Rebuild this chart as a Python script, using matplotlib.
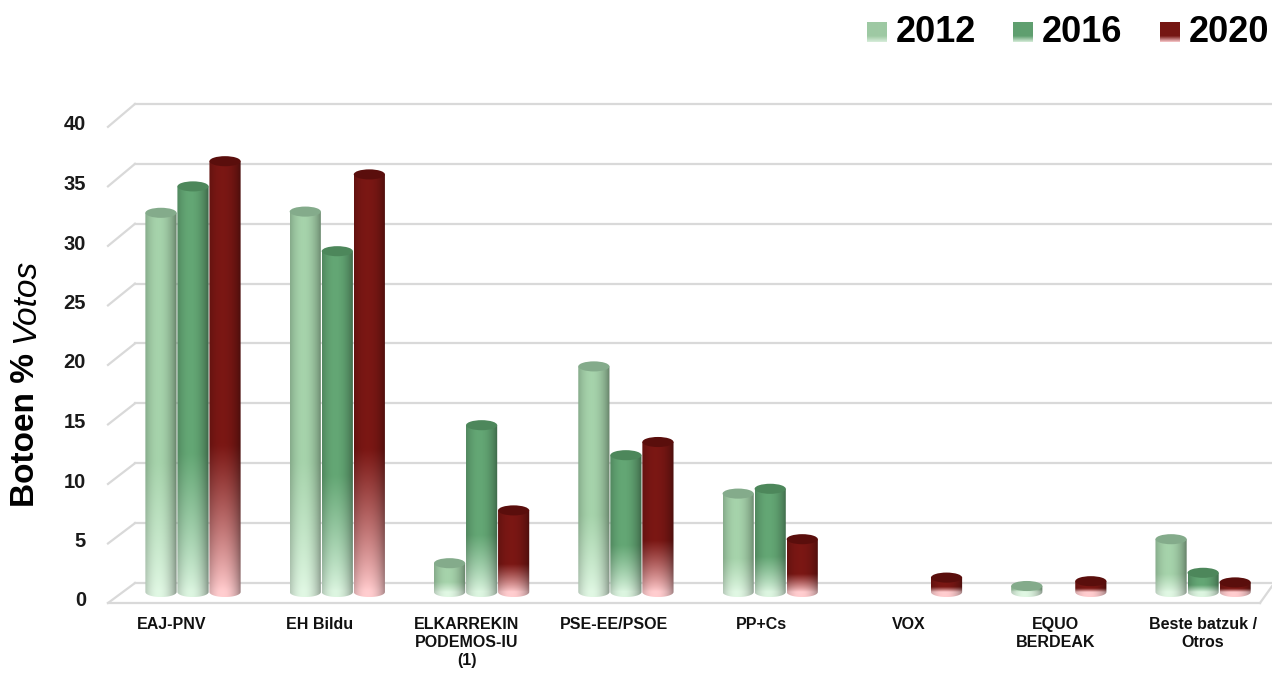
import numpy as np
import matplotlib
matplotlib.use("Agg")
import matplotlib.pyplot as plt
from matplotlib.patches import Ellipse
from matplotlib.path import Path
from matplotlib.colors import to_rgb
from matplotlib.transforms import IdentityTransform

categories = ["EAJ-PNV", "EH Bildu", "ELKARREKIN\nPODEMOS-IU\n(1)", "PSE-EE/PSOE",
              "PP+Cs", "VOX", "EQUO\nBERDEAK", "Beste batzuk /\nOtros"]
years = ["2012", "2016", "2020"]
votes_2012 = [31.6, 31.7, 2.4, 18.8, 8.2, 0, 0.5, 4.4]
votes_2016 = [33.8, 28.4, 13.9, 11.4, 8.6, 0, 0, 1.6]
votes_2020 = [35.9, 34.8, 6.8, 12.5, 4.4, 1.2, 0.9, 0.8]
yticks = [0, 5, 10, 15, 20, 25, 30, 35, 40]

# base / light bottom / top-cap colours per year
base_cols = ["#9ec9a3", "#5f9f6f", "#751613"]
light_cols = ["#d6ecd9", "#d2eAd6", "#f6c4c6"]
top_cols = ["#84ab8b", "#4d875b", "#5a0e0c"]

plt.rcParams["font.family"] = ["Liberation Sans", "DejaVu Sans"]

W, H = 1272, 679
fig = plt.figure(figsize=(W / 100, H / 100), dpi=100)
ax = fig.add_axes([0, 0, 1, 1])

# pixel layout -> data (1 data unit on y = 1 vote %)
X0, XS, Y0, YS = 193, 144.3, 592, 12.0
ax.set_xlim(-X0 / XS, (W - X0) / XS)
ax.set_ylim((Y0 - H) / YS, Y0 / YS)
ax.axis("off")


def px(x, y):
    return (x - X0) / XS, (Y0 - y) / YS


grid_col = "#d9d9d9"
# back wall gridlines + left wall diagonals
for v in yticks:
    yb = 0.75 + v * 0.998
    yf = -0.917 + v * 0.992
    xl, _ = px(135, 0)
    xr, _ = px(1272, 0)
    xf, _ = px(108, 0)
    ax.plot([xl, xr], [yb, yb], color=grid_col, lw=1.6, zorder=1)
    ax.plot([xf, xl], [yf, yb], color=grid_col, lw=1.6, zorder=1)
    _, ty = px(0, 601 - 11.9 * v)
    ax.text(px(86, 0)[0], ty, str(v), ha="right", va="center",
            fontsize=14.5, fontweight="bold", color="#1a1a1a")
# floor front edge
xf, _ = px(108, 0)
xe, _ = px(1260, 0)
ax.plot([xf, xe], [-0.917, -0.917], color=grid_col, lw=1.6, zorder=1)
ax.plot([xe, px(1272, 0)[0]], [-0.917, -0.917 + 1.4], color=grid_col, lw=1.6, zorder=1)

bw = 0.216
step = 0.222
e = 0.42


def cyl_image(base, light, v, nx=48, ny=140):
    base = np.array(to_rgb(base))
    light = np.array(to_rgb(light))
    ys = np.linspace(-e, v, ny)
    f = np.clip(ys / v, 0, 1)
    t = np.clip(f / 0.34, 0, 1) ** 0.85
    col = light[None, :] + (base - light)[None, :] * t[:, None]
    tx = np.linspace(0, 1, nx)
    shade = 0.62 + 0.43 * np.clip(np.cos(np.pi * (tx - 0.42) / 1.15), 0, 1) ** 0.7
    img = col[:, None, :] * shade[None, :, None]
    return np.clip(img, 0, 1)


series = [votes_2012, votes_2016, votes_2020]
z = 3
for i in range(len(categories)):
    for j, vals in enumerate(series):
        v = vals[i]
        if not v > 0:
            continue
        xc = i + (j - 1) * step
        x0, x1 = xc - bw / 2, xc + bw / 2
        ang = np.linspace(np.pi, 2 * np.pi, 40)
        verts = [(x0, v), (x0, 0)]
        verts += list(zip(xc + bw / 2 * np.cos(ang), e * np.sin(ang)))
        verts += [(x1, 0), (x1, v), (x0, v)]
        clip = Path(verts, closed=True)
        im = ax.imshow(cyl_image(base_cols[j], light_cols[j], v), origin="lower",
                       extent=[x0, x1, -e, v], aspect="auto",
                       interpolation="bilinear", zorder=z)
        im.set_clip_path(clip, ax.transData)
        ax.add_patch(Ellipse((xc, v), bw, 2 * e, facecolor=top_cols[j],
                             edgecolor="none", zorder=z + 0.5))
        z += 1

# category labels
for i, lab in enumerate(categories):
    lx, ly = px(172 + 147.3 * i, 617)
    ax.text(lx, ly, lab, ha="center", va="top", fontsize=11.5,
            fontweight="bold", linespacing=1.25, color="#111111")

# legend
lx0 = [867, 1013, 1160]
for j, yr in enumerate(years):
    a0, b0 = px(lx0[j], 42)
    a1, b1 = px(lx0[j] + 20, 22)
    base = np.array(to_rgb(base_cols[j]))
    light = np.array(to_rgb(light_cols[j]))
    t = np.clip(np.linspace(0, 1, 40) / 0.3, 0, 1)
    img = (light[None, :] + (base - light)[None, :] * t[:, None])[:, None, :]
    ax.imshow(img, origin="lower", extent=[a0, a1, b0, b1], aspect="auto", zorder=50)
    tx, ty = px(lx0[j] + 29, 33)
    ax.text(tx, ty, yr, ha="left", va="center", fontsize=26,
            fontweight="bold", color="#000000")

# y axis title: bold part then italic part
t1 = fig.text(26 / W, 1 - 507 / H, "Botoen %", rotation=90, rotation_mode="anchor",
              ha="left", va="center", fontsize=24, fontweight="bold")
fig.canvas.draw()
bb = t1.get_window_extent(fig.canvas.get_renderer())
fig.text(26 / W, (bb.y1 + 10) / H, "Votos", rotation=90, rotation_mode="anchor",
         ha="left", va="center", fontsize=24, fontstyle="italic")

fig.savefig("out.png", dpi=100)
